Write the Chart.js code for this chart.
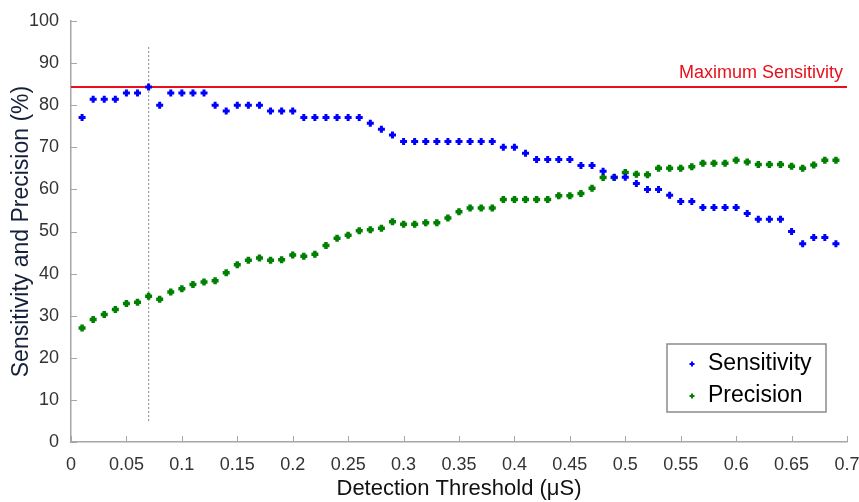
<!DOCTYPE html>
<html>
<head>
<meta charset="utf-8">
<script src="https://cdn.jsdelivr.net/npm/chart.js@4.4.1/dist/chart.umd.min.js"></script>
<style>
  html, body { margin: 0; padding: 0; background: #fff; }
  canvas { display: block; }
</style>
</head>
<body>
<canvas id="thresholdChart" width="859" height="502"></canvas>
<script>
// Detection threshold (uS) for every measured point
const thresholds = [
    0.01, 0.02, 0.03, 0.04, 0.05, 0.06, 0.07, 0.08, 0.09, 0.10,
    0.11, 0.12, 0.13, 0.14, 0.15, 0.16, 0.17, 0.18, 0.19, 0.20,
    0.21, 0.22, 0.23, 0.24, 0.25, 0.26, 0.27, 0.28, 0.29, 0.30,
    0.31, 0.32, 0.33, 0.34, 0.35, 0.36, 0.37, 0.38, 0.39, 0.40,
    0.41, 0.42, 0.43, 0.44, 0.45, 0.46, 0.47, 0.48, 0.49, 0.50,
    0.51, 0.52, 0.53, 0.54, 0.55, 0.56, 0.57, 0.58, 0.59, 0.60,
    0.61, 0.62, 0.63, 0.64, 0.65, 0.66, 0.67, 0.68, 0.69
];
const sensitivity = [
    77.1, 81.4, 81.4, 81.4, 82.9, 82.9, 84.3, 80.0, 82.9, 82.9,
    82.9, 82.9, 80.0, 78.6, 80.0, 80.0, 80.0, 78.6, 78.6, 78.6,
    77.1, 77.1, 77.1, 77.1, 77.1, 77.1, 75.7, 74.3, 72.9, 71.4,
    71.4, 71.4, 71.4, 71.4, 71.4, 71.4, 71.4, 71.4, 70.0, 70.0,
    68.6, 67.1, 67.1, 67.1, 67.1, 65.7, 65.7, 64.3, 62.9, 62.9,
    61.4, 60.0, 60.0, 58.6, 57.1, 57.1, 55.7, 55.7, 55.7, 55.7,
    54.3, 52.9, 52.9, 52.9, 50.0, 47.1, 48.6, 48.6, 47.1
];
const precision = [
    27.1, 29.1, 30.3, 31.5, 32.9, 33.2, 34.6, 33.9, 35.6, 36.4,
    37.4, 38.0, 38.3, 40.2, 42.1, 43.2, 43.7, 43.2, 43.3, 44.4,
    44.1, 44.6, 46.7, 48.4, 49.1, 50.2, 50.4, 50.8, 52.3, 51.7,
    51.7, 52.1, 52.1, 53.2, 54.7, 55.6, 55.6, 55.6, 57.6, 57.6,
    57.6, 57.6, 57.6, 58.5, 58.5, 59.0, 60.3, 62.8, 62.8, 64.0,
    63.6, 63.5, 65.0, 65.0, 65.0, 65.4, 66.2, 66.2, 66.2, 66.9,
    66.5, 65.9, 65.9, 65.9, 65.5, 65.0, 65.8, 66.9, 66.9
];
const maxSensitivity = 84.3;
const bestThreshold = 0.07;
const markerRange = [5, 94];

const xTickValues = [0, 0.05, 0.1, 0.15, 0.2, 0.25, 0.3, 0.35, 0.4, 0.45, 0.5, 0.55, 0.6, 0.65, 0.7];
const xTickLabels = ['0', '0.05', '0.1', '0.15', '0.2', '0.25', '0.3', '0.35', '0.4', '0.45', '0.5', '0.55', '0.6', '0.65', '0.7'];
const yTickValues = [0, 10, 20, 30, 40, 50, 60, 70, 80, 90, 100];

const FONT = '"Liberation Sans", Arial, sans-serif';
const BLUE = '#0000ff';
const GREEN = '#008000';
const RED = '#e8101a';
const AXIS_GREY = '#a6a6a6';

// tick marks drawn on the inside of the axes, matlab style
const insideTicks = {
    id: 'insideTicks',
    afterDraw(chart) {
        const { ctx, chartArea, scales } = chart;
        ctx.save();
        ctx.strokeStyle = AXIS_GREY;
        ctx.lineWidth = 1;
        scales.y.ticks.forEach(t => {
            const y = Math.round(scales.y.getPixelForValue(t.value)) + 0.5;
            ctx.beginPath();
            ctx.moveTo(chartArea.left, y);
            ctx.lineTo(chartArea.left + 6, y);
            ctx.stroke();
        });
        scales.x.ticks.forEach(t => {
            const x = Math.round(scales.x.getPixelForValue(t.value)) + 0.5;
            ctx.beginPath();
            ctx.moveTo(x, chartArea.bottom);
            ctx.lineTo(x, chartArea.bottom - 6);
            ctx.stroke();
        });
        ctx.restore();
    }
};

const maxLabel = {
    id: 'maxLabel',
    afterDatasetsDraw(chart) {
        const { ctx, chartArea, scales } = chart;
        ctx.save();
        ctx.font = '18px ' + FONT;
        ctx.fillStyle = RED;
        ctx.textAlign = 'right';
        ctx.textBaseline = 'middle';
        ctx.fillText('Maximum Sensitivity', chartArea.right - 4, scales.y.getPixelForValue(maxSensitivity) - 14);
        ctx.restore();
    }
};

function drawPlus(ctx, x, y, r, color, w) {
    ctx.strokeStyle = color;
    ctx.lineWidth = w;
    ctx.beginPath();
    ctx.moveTo(x - r, y); ctx.lineTo(x + r, y);
    ctx.moveTo(x, y - r); ctx.lineTo(x, y + r);
    ctx.stroke();
}

const boxLegend = {
    id: 'boxLegend',
    afterDraw(chart) {
        const { ctx, chartArea } = chart;
        const left = chartArea.right - 180, top = chartArea.bottom - 98;
        ctx.save();
        ctx.fillStyle = '#fff';
        ctx.fillRect(left, top, 159, 68);
        ctx.strokeStyle = '#8c8c8c';
        ctx.lineWidth = 1.5;
        ctx.strokeRect(left, top, 159, 68);
        ctx.font = '23px ' + FONT;
        ctx.fillStyle = '#000';
        ctx.textBaseline = 'middle';
        const rows = [chart.data.datasets[0], chart.data.datasets[1]];
        rows.forEach((ds, i) => {
            const cy = top + 20 + i * 32;
            drawPlus(ctx, left + 25, cy, 2.5, ds.borderColor, 2);
            ctx.fillText(ds.label, left + 41, cy);
        });
        ctx.restore();
    }
};

const ctx = document.getElementById('thresholdChart').getContext('2d');
const thresholdChart = new Chart(ctx, {
    type: 'line',
    data: {
        datasets: [{
            label: 'Sensitivity',
            data: thresholds.map((x, i) => ({ x: x, y: sensitivity[i] })),
            showLine: false,
            borderColor: BLUE,
            backgroundColor: BLUE,
            pointStyle: 'cross',
            pointRadius: 3.5,
            pointBorderWidth: 3,
            order: 1
        }, {
            label: 'Precision',
            data: thresholds.map((x, i) => ({ x: x, y: precision[i] })),
            showLine: false,
            borderColor: GREEN,
            backgroundColor: GREEN,
            pointStyle: 'cross',
            pointRadius: 3.5,
            pointBorderWidth: 3.5,
            order: 2
        }, {
            label: 'Maximum Sensitivity',
            data: [{ x: 0, y: maxSensitivity }, { x: 0.7, y: maxSensitivity }],
            borderColor: RED,
            borderWidth: 2,
            pointRadius: 0,
            order: 3
        }, {
            label: 'Best threshold',
            data: [{ x: bestThreshold, y: markerRange[0] }, { x: bestThreshold, y: markerRange[1] }],
            borderColor: '#9a9a9a',
            borderWidth: 1.2,
            borderDash: [2, 2],
            pointRadius: 0,
            order: 4
        }]
    },
    options: {
        responsive: false,
        animation: false,
        layout: { padding: { left: 0, right: 12, top: 21, bottom: 0 } },
        plugins: {
            legend: { display: false },
            tooltip: { enabled: false }
        },
        scales: {
            x: {
                type: 'linear',
                min: 0,
                max: 0.7,
                afterBuildTicks: scale => { scale.ticks = xTickValues.map(v => ({ value: v })); },
                afterFit: scale => {
                    scale.height = 60;
                    scale.paddingLeft = 0;
                    scale.paddingRight = 0;
                },
                ticks: {
                    color: '#333',
                    font: { family: FONT, size: 18 },
                    padding: 4,
                    maxRotation: 0,
                    callback: (value, index) => xTickLabels[index]
                },
                grid: { display: false },
                border: { display: true, color: AXIS_GREY, width: 1.5 },
                title: {
                    display: true,
                    text: 'Detection Threshold (\u03bcS)',
                    color: '#111',
                    font: { family: FONT, size: 22 },
                    padding: { top: 0, bottom: 0 }
                }
            },
            y: {
                min: 0,
                max: 100,
                afterBuildTicks: scale => { scale.ticks = yTickValues.map(v => ({ value: v })); },
                afterFit: scale => {
                    scale.width = 71;
                    scale.paddingTop = 0;
                    scale.paddingBottom = 0;
                },
                ticks: {
                    color: '#333',
                    font: { family: FONT, size: 18 },
                    padding: 4
                },
                grid: { display: false },
                border: { display: true, color: AXIS_GREY, width: 1.5 },
                title: {
                    display: true,
                    text: 'Sensitivity and Precision (%)',
                    color: '#15213a',
                    font: { family: FONT, size: 23 },
                    padding: { top: 8, bottom: 0 }
                }
            }
        }
    },
    plugins: [insideTicks, maxLabel, boxLegend]
});
</script>
</body>
</html>
